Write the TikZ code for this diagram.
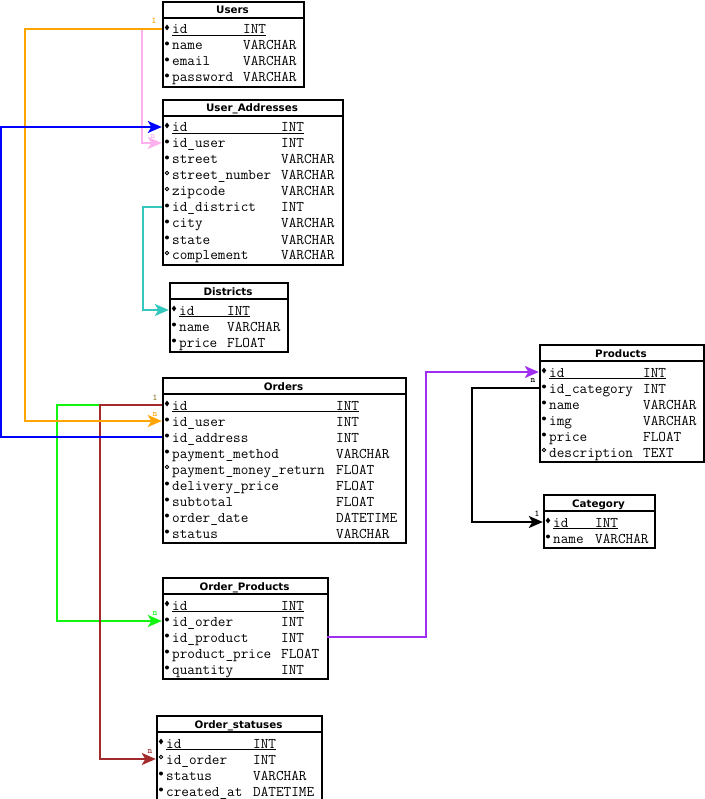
\documentclass[tikz,border=0pt]{standalone}
\usepackage{fontspec}
\setmainfont{DejaVu Sans}
\usetikzlibrary{arrows.meta}

\definecolor{orangec}{HTML}{FFA500}
\definecolor{pinkc}{HTML}{FFB0EE}
\definecolor{bluec}{HTML}{0000FF}
\definecolor{tealc}{HTML}{33C7BD}
\definecolor{greenc}{HTML}{11F511}
\definecolor{brownc}{HTML}{A22A2A}
\definecolor{purplec}{HTML}{A02EF0}
\definecolor{olivec}{HTML}{8A7A2A}

\tikzset{
 tablebox/.style={draw=black, line width=2pt, fill=white, inner sep=0pt},
 headline/.style={line width=1.5pt},
 titletext/.style={font=\fontsize{10.3}{12}\selectfont\bfseries, inner sep=0pt, anchor=base},
 coltext/.style={font=\ttfamily\fontsize{14.8}{16}\selectfont, inner sep=0pt, anchor=base west},
 rowbox/.style={inner sep=0pt, minimum height=16pt, draw=none},
 conn/.style={line width=2pt, -{Stealth[length=14pt,width=12pt,inset=3.5pt]}},
 plainconn/.style={line width=2pt},
 lbl/.style={font=\ttfamily\bfseries\fontsize{9}{9}\selectfont, inner sep=0pt},
}

\def\kindpk{p}
\def\kindop{o}

% #1 name, #2 left, #3 top, #4 width, #5 title, #6 type offset, #7 rows count, #8 rows
\newcommand{\erTable}[8]{%
  \pgfmathsetmacro{\tabH}{21+16*#7}%
  \node[tablebox, minimum width=#4pt, minimum height=\tabH pt, anchor=north west] (#1) at (#2,#3) {};%
  \node[titletext] (#1-title) at ({#2+#4/2},{#3+13}) {#5};%
  \draw[headline] (#2,{#3+17}) -- ({#2+#4},{#3+17});%
  \foreach \fk/\fn/\ft/\fm [count=\ri] in {#8} {%
    \pgfmathsetmacro{\rowy}{#3+12+16*\ri}%
    \node[rowbox, minimum width=#4pt] (#1-\fk) at ({#2+#4/2},\rowy) {};%
    \node[coltext] (#1-\fk-name) at ({#2+10},{\rowy+5}) {\fn};%
    \node[coltext] (#1-\fk-type) at ({#2+#6},{\rowy+5}) {\ft};%
    \edef\kind{\fm}%
    \ifx\kind\kindpk
      \draw[line width=0.9pt] ({#2+10},{\rowy+6.5}) -- ([yshift=-1.5pt]#1-\fk-type.base east);%
      \fill ({#2+5},{\rowy-4.5}) -- ++(2.2,3) -- ++(-2.2,3) -- ++(-2.2,-3) -- cycle;%
    \else\ifx\kind\kindop
      \draw[line width=0.8pt] ({#2+5},{\rowy-2}) circle[radius=1.8pt];%
    \else
      \fill ({#2+5},{\rowy-1.5}) circle[radius=2pt];%
    \fi\fi
  }%
}

\begin{document}
\begin{tikzpicture}[x=1pt,y=-1pt]
\useasboundingbox (0,0) rectangle (704,799);
\fill[white] (0,0) rectangle (704,799);

\erTable{users}{162}{1}{141}{Users}{81}{4}{id/id/INT/p, name/name/VARCHAR/r, email/email/VARCHAR/r, password/password/VARCHAR/r}

\erTable{ua}{162}{99}{180}{User\_Addresses}{119}{9}{id/id/INT/p, iduser/id\_user/INT/r, street/street/VARCHAR/r, streetnumber/street\_number/VARCHAR/o, zipcode/zipcode/VARCHAR/o, iddistrict/id\_district/INT/r, city/city/VARCHAR/r, state/state/VARCHAR/r, complement/complement/VARCHAR/o}

\erTable{districts}{169}{282}{118}{Districts}{58}{3}{id/id/INT/p, name/name/VARCHAR/r, price/price/FLOAT/r}

\erTable{orders}{162}{377}{243}{Orders}{174}{9}{id/id/INT/p, iduser/id\_user/INT/r, idaddress/id\_address/INT/r, paymentmethod/payment\_method/VARCHAR/r, paymentmoneyreturn/payment\_money\_return/FLOAT/o, deliveryprice/delivery\_price/FLOAT/r, subtotal/subtotal/FLOAT/r, orderdate/order\_date/DATETIME/r, status/status/VARCHAR/r}

\erTable{products}{539}{344}{164}{Products}{104}{6}{id/id/INT/p, idcategory/id\_category/INT/r, name/name/VARCHAR/r, img/img/VARCHAR/r, price/price/FLOAT/r, description/description/TEXT/o}

\erTable{category}{543}{494}{111}{Category}{52}{2}{id/id/INT/p, name/name/VARCHAR/r}

\erTable{op}{162}{577}{165}{Order\_Products}{119}{5}{id/id/INT/p, idorder/id\_order/INT/r, idproduct/id\_product/INT/r, productprice/product\_price/FLOAT/r, quantity/quantity/INT/r}

\erTable{os}{156}{715}{165}{Order\_statuses}{97}{4}{id/id/INT/p, idorder/id\_order/INT/o, status/status/VARCHAR/r, createdat/created\_at/DATETIME/r}

% bend coordinates
\coordinate (xO) at (25,0);
\coordinate (xB) at (1,0);
\coordinate (xP) at (142,0);
\coordinate (xT) at (143,0);
\coordinate (xG) at (57,0);
\coordinate (xR) at (100,0);
\coordinate (xU) at (426,0);
\coordinate (xK) at (472,0);

% connectors
\draw[conn, color=pinkc] (users-id.west) -- (users-id.west -| xP) |- (ua-iduser.west);
\draw[conn, color=tealc] (ua-iddistrict.west) -- (ua-iddistrict.west -| xT) |- (districts-id.west);
\draw[conn, color=greenc] (orders-id.west) -- (orders-id.west -| xG) |- (op-idorder.west);
\draw[conn, color=brownc] (orders-id.west) -- (orders-id.west -| xR) |- (os-idorder.west);
\draw[conn, color=purplec] (op-idproduct.east) -- (op-idproduct.east -| xU) |- (products-id.west);
\draw[conn, color=black] (products-idcategory.west) -- (products-idcategory.west -| xK) |- (category-id.west);
\draw[conn, color=orangec] (users-id.west) -- (users-id.west -| xO) |- (orders-iduser.west);
\draw[conn, color=bluec] (orders-idaddress.west) -- (orders-idaddress.west -| xB) |- (ua-id.west);

% cardinality labels
\node[lbl, text=orangec] (l1) at (154,21) {1};
\node[lbl, text=pinkc] (l2) at (153,137) {n};
\node[lbl, text=olivec] (l3) at (155,398) {1};
\node[lbl, text=orangec] (l4) at (155,415) {n};
\node[lbl, text=greenc] (l5) at (155,614) {n};
\node[lbl, text=brownc] (l6) at (150,752) {n};
\node[lbl] (l7) at (533,381) {n};
\node[lbl] (l8) at (537,514) {1};
\end{tikzpicture}
\end{document}
